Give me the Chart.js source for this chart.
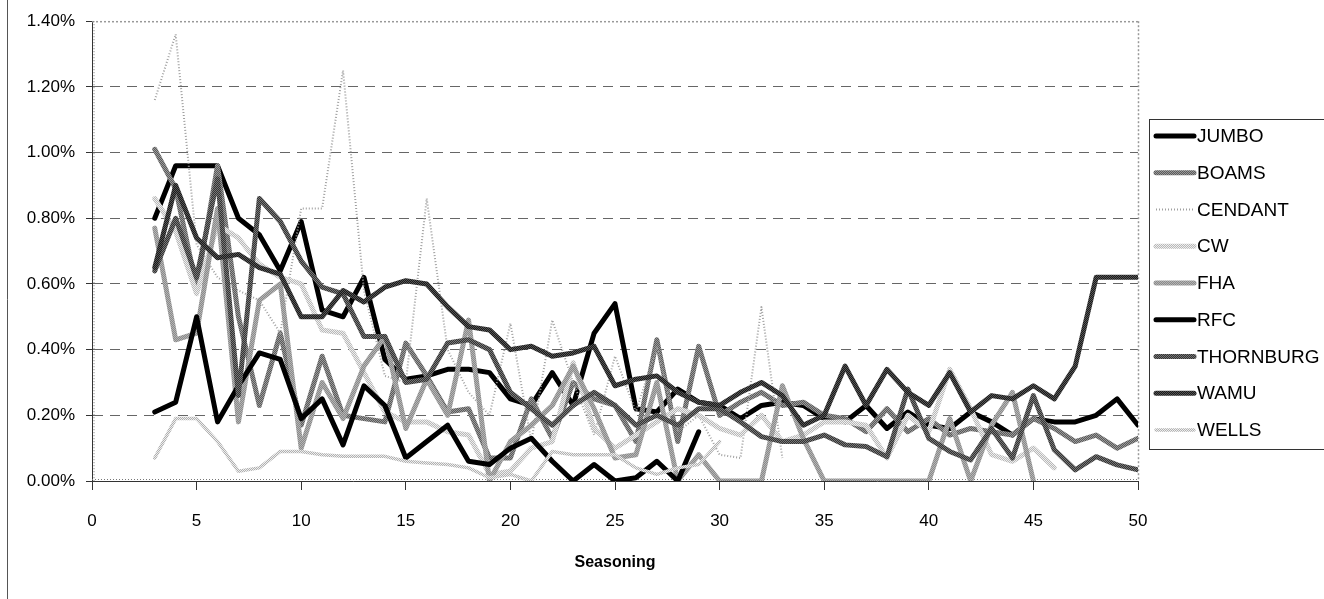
<!DOCTYPE html>
<html><head><meta charset="utf-8">
<style>html,body{margin:0;padding:0;background:#fff;}canvas{display:block;}</style>
<script src="https://cdn.jsdelivr.net/npm/chart.js@4/dist/chart.umd.min.js"></script>
</head><body>
<canvas id="c" width="1324" height="599"></canvas>
<script>
const seasoning = [3,4,5,6,7,8,9,10,11,12,13,14,15,16,17,18,19,20,21,22,23,24,25,26,27,28,29,30,31,32,33,34,35,36,37,38,39,40,41,42,43,44,45,46,47,48,49,50];
const seriesNames = ['JUMBO','BOAMS','CENDANT','CW','FHA','RFC','THORNBURG','WAMU','WELLS'];
const yTicks = [0,0.2,0.4,0.6,0.8,1.0,1.2,1.4];
const xTicks = [0,5,10,15,20,25,30,35,40,45,50];

const jumbo = [0.80,0.96,0.96,0.96,0.80,0.75,0.64,0.79,0.52,0.50,0.62,0.37,0.31,0.32,0.34,0.34,0.33,0.25,0.23,0.33,0.23,0.45,0.54,0.22,0.21,0.28,0.24,0.23,0.19,0.23,0.24,0.23,0.19,0.18,0.23,0.16,0.21,0.17,0.16,0.21,0.18,0.14,0.19,0.18,0.18,0.20,0.25,0.17];
const boams = [1.01,0.89,0.59,0.96,0.50,0.23,0.45,0.17,0.38,0.20,0.19,0.18,0.42,0.32,0.21,0.22,0.07,0.07,0.25,0.13,0.30,0.25,0.23,0.12,0.43,0.12,0.41,0.20,0.24,0.27,0.23,0.24,0.20,0.19,0.15,0.22,0.15,0.19,0.14,0.16,0.15,0.14,0.19,0.16,0.12,0.14,0.10,0.13];
const cendant = [1.16,1.36,0.72,0.62,0.58,0.55,0.45,0.83,0.83,1.25,0.58,0.32,0.30,0.86,0.40,0.27,0.20,0.48,0.12,0.49,0.30,0.14,0.38,0.21,0.41,0.15,0.20,0.08,0.07,0.53,0.07,null,null,null,null,null,null,null,null,null,null,null,null,null,null,null,null,null];
const cw = [0.86,0.76,0.57,0.78,0.74,0.66,0.62,0.60,0.46,0.45,0.33,0.21,0.18,0.18,0.15,0.14,0.02,0.03,0.10,0.12,0.36,0.16,0.10,0.14,0.18,0.22,0.20,0.16,0.14,0.20,0.12,0.14,0.18,0.18,0.17,0.07,0.20,0.15,0.34,0.22,0.08,0.06,0.10,0.04,null,null,null,null];
const fha = [0.77,0.43,0.45,0.83,0.18,0.55,0.60,0.10,0.30,0.19,0.35,0.44,0.16,0.31,0.20,0.49,0.00,0.12,0.17,0.23,0.35,0.22,0.07,0.08,0.30,0.00,0.08,0.00,0.00,0.00,0.29,0.13,0.00,0.00,0.00,0.00,0.00,0.00,0.19,0.00,0.17,0.27,0.00,null,null,null,null,null];
const rfc = [0.21,0.24,0.50,0.18,0.29,0.39,0.37,0.19,0.25,0.11,0.29,0.23,0.07,0.12,0.17,0.06,0.05,0.10,0.13,0.06,0.00,0.05,0.00,0.01,0.06,0.00,0.15,null,null,null,null,null,null,null,null,null,null,null,null,null,null,null,null,null,null,null,null,null];
const thornburg = [0.64,0.80,0.62,0.92,0.26,0.86,0.79,0.67,0.59,0.57,0.44,0.44,0.30,0.31,0.42,0.43,0.40,0.27,0.22,0.17,0.23,0.27,0.23,0.17,0.20,0.17,0.22,0.22,0.18,0.135,0.12,0.12,0.14,0.11,0.105,0.074,0.28,0.13,0.09,0.064,0.16,0.07,0.26,0.095,0.034,0.074,0.049,0.034];
const wamu = [0.65,0.90,0.74,0.68,0.69,0.65,0.63,0.50,0.50,0.58,0.545,0.59,0.61,0.60,0.53,0.47,0.46,0.40,0.41,0.38,0.39,0.41,0.29,0.31,0.32,0.27,0.24,0.23,0.27,0.30,0.26,0.17,0.20,0.35,0.23,0.34,0.27,0.23,0.33,0.21,0.26,0.25,0.29,0.25,0.35,0.62,0.62,0.62];
const wells = [0.07,0.19,0.19,0.12,0.03,0.04,0.09,0.09,0.08,0.075,0.075,0.075,0.06,0.055,0.05,0.04,0.01,0.02,0.00,0.09,0.08,0.08,0.08,0.04,0.02,0.04,0.05,0.12,null,null,null,null,null,null,null,null,null,null,null,null,null,null,null,null,null,null,null,null];

const canvas = document.getElementById('c');
const cctx = canvas.getContext('2d');
function pat(c1, c2) {
  const p = document.createElement('canvas'); p.width = 2; p.height = 2;
  const x = p.getContext('2d');
  x.fillStyle = c1; x.fillRect(0,0,2,2);
  x.fillStyle = c2; x.fillRect(0,0,1,1); x.fillRect(1,1,1,1);
  return cctx.createPattern(p, 'repeat');
}
const styles = [
  {color:'#000000', width:5},
  {color:pat('#5a5a5a','#9a9a9a'), width:5},
  {color:'#a0a0a0', width:2, dash:[1,2]},
  {color:pat('#b8b8b8','#eeeeee'), width:5},
  {color:pat('#8a8a8a','#b4b4b4'), width:5},
  {color:'#000000', width:5},
  {color:pat('#333333','#777777'), width:5},
  {color:pat('#1a1a1a','#555555'), width:5},
  {color:pat('#b0b0b0','#eeeeee'), width:3.5}
];
const values = [jumbo, boams, cendant, cw, fha, rfc, thornburg, wamu, wells];
const datasets = seriesNames.map((name, i) => ({
  label: name,
  data: seasoning.map((s, k) => ({x: s, y: values[i][k]})),
  borderColor: styles[i].color,
  backgroundColor: styles[i].color,
  borderWidth: styles[i].width,
  borderDash: styles[i].dash || [],
  borderJoinStyle: 'round',
  borderCapStyle: styles[i].dash ? 'butt' : 'round',
  pointRadius: 0,
  pointHoverRadius: 0,
  tension: 0,
  fill: false,
  spanGaps: false,
  order: seriesNames.length - i
}));

const decor = {
  id: 'decor',
  beforeDatasetsDraw(chart) {
    const ctx = chart.ctx, a = chart.chartArea;
    ctx.save();
    ctx.strokeStyle = '#999'; ctx.lineWidth = 1.5; ctx.setLineDash([2,2]);
    ctx.beginPath(); ctx.moveTo(a.right + 0.5, a.top); ctx.lineTo(a.right + 0.5, a.bottom); ctx.stroke();
    ctx.beginPath(); ctx.moveTo(a.left, a.top + 0.5); ctx.lineTo(a.right, a.top + 0.5); ctx.stroke();
    ctx.strokeStyle = '#777'; ctx.lineWidth = 1; ctx.setLineDash([1,2]);
    ctx.beginPath(); ctx.moveTo(a.left + 2, a.top); ctx.lineTo(a.left + 2, a.bottom); ctx.stroke();
    ctx.beginPath(); ctx.moveTo(a.left, a.bottom - 1.5); ctx.lineTo(a.right, a.bottom - 1.5); ctx.stroke();
    ctx.restore();
  },
  afterDraw(chart) {
    const ctx = chart.ctx;
    ctx.save();
    ctx.strokeStyle = '#555'; ctx.lineWidth = 1;
    ctx.beginPath(); ctx.moveTo(7.5, 0); ctx.lineTo(7.5, 599); ctx.stroke();
    ctx.strokeStyle = '#333';
    ctx.strokeRect(1149.5, 119.5, 200, 330);
    chart.data.datasets.forEach((ds, i) => {
      const y = 136 + i * 36.75;
      ctx.save();
      ctx.strokeStyle = ds.borderColor; ctx.lineWidth = ds.borderWidth;
      ctx.setLineDash(ds.borderDash || []); ctx.lineCap = (ds.borderDash && ds.borderDash.length) ? 'butt' : 'round';
      ctx.beginPath(); ctx.moveTo(1156, y); ctx.lineTo(1194, y); ctx.stroke();
      ctx.restore();
      ctx.fillStyle = '#000';
      ctx.font = '19px "Liberation Sans", Arial, sans-serif';
      ctx.textBaseline = 'middle'; ctx.textAlign = 'left';
      ctx.fillText(ds.label, 1197, y + 1);
    });
    ctx.restore();
  }
};

new Chart(canvas, {
  type: 'line',
  data: { datasets },
  plugins: [decor],
  options: {
    responsive: false,
    devicePixelRatio: 1,
    animation: false,
    events: [],
    layout: { padding: { top: 21, right: 186, left: 0, bottom: 0 } },
    plugins: { legend: { display: false }, tooltip: { enabled: false } },
    scales: {
      x: {
        type: 'linear', min: 0, max: 50,
        afterBuildTicks: s => { s.ticks = xTicks.map(v => ({value: v})); },
        afterFit: s => { s.height = 118; },
        ticks: { padding: 21, color: '#000', maxRotation: 0, font: { size: 17, family: '"Liberation Sans", Arial, sans-serif' } },
        grid: { drawOnChartArea: false, drawTicks: true, tickLength: 9, color: '#333', tickColor: '#333' },
        border: { display: true, color: '#333', width: 1 },
        title: { display: true, text: 'Seasoning', color: '#000', font: { size: 16, weight: 'bold', family: '"Liberation Sans", Arial, sans-serif' }, padding: { top: 0, bottom: 27 } }
      },
      y: {
        min: 0, max: 1.4,
        afterBuildTicks: s => { s.ticks = yTicks.map(v => ({value: v})); },
        afterFit: s => { s.width = 92; },
        ticks: { padding: 11, color: '#000', font: { size: 17, family: '"Liberation Sans", Arial, sans-serif' }, callback: v => v.toFixed(2) + '%' },
        grid: {
          drawTicks: true, tickLength: 6, tickColor: '#333',
          color: c => (c.tick && (c.tick.value === 0 || Math.abs(c.tick.value - 1.4) < 1e-9)) ? 'rgba(0,0,0,0)' : '#666',
          lineWidth: 1
        },
        border: { display: true, color: '#333', width: 1, dash: [10, 7] }
      }
    }
  }
});
</script>
</body></html>
